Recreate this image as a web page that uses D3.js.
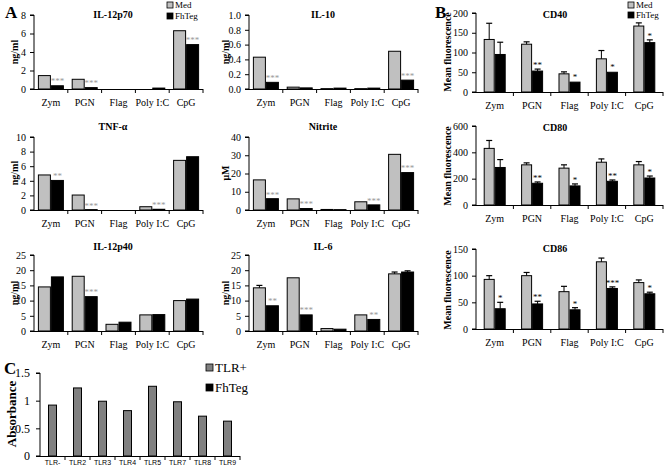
<!DOCTYPE html>
<html><head><meta charset="utf-8">
<script src="https://cdn.jsdelivr.net/npm/d3@7"></script>
<style>body{margin:0;background:#fff} svg{display:block;font-family:"Liberation Serif","Times New Roman",serif}</style>
</head><body><svg id="c" width="664" height="467"></svg>
<script>
const categories = ["Zym","PGN","Flag","Poly I:C","CpG"];
const seriesNames = ["Med","FhTeg"];

const il12p70Med = [1.45,1.05,0,0,6.3];
const il12p70MedErr = [0.05,0.04,0,0,0.06];
const il12p70Teg = [0.35,0.15,0,0.1,4.8];
const il12p70TegErr = [0.03,0.02,0,0.02,0.05];
const il12p70Sig = ["***","***","","","***"];

const il10Med = [0.43,0.025,0.005,0.005,0.51];
const il10MedErr = [0.01,0.002,0.001,0.001,0.005];
const il10Teg = [0.09,0.015,0.012,0.012,0.12];
const il10TegErr = [0.005,0.002,0.001,0.001,0.005];
const il10Sig = ["***","","","","***"];

const tnfMed = [4.8,2.05,0,0.45,6.8];
const tnfMedErr = [0.07,0.06,0,0.04,0.15];
const tnfTeg = [4.05,0.05,0,0.1,7.3];
const tnfTegErr = [0.05,0.01,0,0.02,0.1];
const tnfSig = ["**","***","","***",""];

const nitriteMed = [16.5,6.1,0.3,4.5,30.5];
const nitriteMedErr = [0.2,0.2,0.05,0.2,0.3];
const nitriteTeg = [6.2,0.8,0.2,2.8,20.5];
const nitriteTegErr = [0.1,0.05,0.05,0.1,0.3];
const nitriteSig = ["***","***","","***","***"];

const il12p40Med = [14.5,18,2.2,5.3,10];
const il12p40MedErr = [0.2,0.3,0.1,0.1,0.3];
const il12p40Teg = [17.8,11.3,2.9,5.4,10.5];
const il12p40TegErr = [0.2,0.2,0.1,0.1,0.3];
const il12p40Sig = ["","***","","",""];

const il6Med = [14.2,17.5,0.8,5.3,18.8];
const il6MedErr = [0.8,0.3,0.05,0.2,0.6];
const il6Teg = [8.3,5.3,0.6,3.8,19.4];
const il6TegErr = [0.2,0.2,0.05,0.2,0.4];
const il6Sig = ["**","***","","**",""];

const cd40Med = [133,121,46,84,167];
const cd40MedErr = [41,6,5,21,8];
const cd40Teg = [95,53,25,50,125];
const cd40TegErr = [31,5,3,3,7];
const cd40Sig = ["","**","*","*","*"];

const cd80Med = [430,305,280,325,305];
const cd80MedErr = [60,15,25,25,25];
const cd80Teg = [285,165,145,180,205];
const cd80TegErr = [60,10,15,10,15];
const cd80Sig = ["","**","*","**","*"];

const cd86Med = [93,100,70,126,87];
const cd86MedErr = [7,6,10,7,5];
const cd86Teg = [38,47,36,76,66];
const cd86TegErr = [12,5,4,3,3];
const cd86Sig = ["*","**","*","***","*"];

const tlrCategories = ["TLR-","TLR2","TLR3","TLR4","TLR5","TLR7","TLR8","TLR9"];
const tlrAbsorbance = [0.92,1.23,0.99,0.82,1.26,0.98,0.72,0.63];
const tlrLegend = ["TLR+","FhTeg"];

const svg = d3.select("#c");
const GRAY = "#c0c0c0";

function panel(o){
  const g = svg.append("g");
  const x = d3.scaleBand().domain(categories).range([o.x0,o.x1]).paddingInner(0).paddingOuter(0);
  const y = d3.scaleLinear().domain([0,o.max]).range([o.base,o.top]);
  const bw = o.bw;
  // y axis
  const ya = d3.axisLeft(y).tickValues(o.ticks).tickSize(4).tickFormat(o.fmt||d3.format("d"));
  const ag = g.append("g").attr("transform",`translate(${o.x0},0)`).call(ya);
  ag.select(".domain").attr("stroke","#000").attr("d",`M-4,${o.base}H0V${o.top}H-4`);
  ag.selectAll("text").attr("font-size",10).attr("font-family","Liberation Serif").attr("dx",-1);
  // bars
  const sets = [[o.med,o.medErr,GRAY],[o.teg,o.tegErr,"#000"]];
  sets.forEach((s,si)=>{
    categories.forEach((c,i)=>{
      const cx = x(c)+x.bandwidth()/2;
      const bx = si===0? cx-bw : cx;
      const v = s[0][i];
      const yt = y(v);
      if(v>0){
        g.append("rect").attr("x",bx+0.5).attr("y",yt).attr("width",bw-1).attr("height",Math.max(o.base-yt,0.5))
          .attr("fill",s[2]).attr("stroke","#000").attr("stroke-width",1);
      }
      const e = s[1][i];
      if(e>0 && y(v)-y(v+e)>1.2){
        const ex = bx+bw/2;
        g.append("line").attr("x1",ex).attr("x2",ex).attr("y1",yt).attr("y2",y(v+e)).attr("stroke","#000");
        g.append("line").attr("x1",ex-3).attr("x2",ex+3).attr("y1",y(v+e)).attr("y2",y(v+e)).attr("stroke","#000").attr("stroke-width",1.2);
      }
    });
  });
  // significance
  categories.forEach((c,i)=>{
    const s = o.sig[i]; if(!s) return;
    const cx = x(c)+x.bandwidth()/2 + bw/2;
    const top = y(o.teg[i]+o.tegErr[i]);
    g.append("text").attr("x",cx).attr("y",top-1).attr("text-anchor","middle")
      .attr("font-size",9).attr("fill",o.starColor).attr("font-family","Liberation Serif").text(s);
  });
  // x axis
  g.append("line").attr("x1",o.x0).attr("x2",o.x1).attr("y1",o.base+0.5).attr("y2",o.base+0.5).attr("stroke","#000");
  categories.forEach((c,i)=>{
    const xx = x(c)+x.bandwidth();
    g.append("line").attr("x1",xx).attr("x2",xx).attr("y1",o.base).attr("y2",o.base+4).attr("stroke","#000");
    g.append("text").attr("x",x(c)+x.bandwidth()/2).attr("y",o.base+17).attr("text-anchor","middle")
      .attr("font-size",10).text(c);
  });
  // title
  g.append("text").attr("x",o.tx).attr("y",o.ty).attr("text-anchor","middle").attr("font-weight","bold")
    .attr("font-size",10).text(o.title);
  // y label
  g.append("text").attr("transform",`translate(${o.lx},${o.ly}) rotate(-90)`).attr("text-anchor","middle")
    .attr("font-weight","bold").attr("font-size",o.lsize||10).text(o.ylab);
}

const L = {x0:34,x1:203,tx:113,lx:18};
const R = {x0:249,x1:418,tx:323,lx:229};
const B = {x0:476,x1:663,tx:555,lx:451};
const r1 = {top:15,base:89,ty:18};
const r2 = {top:137,base:210,ty:130};
const r3 = {top:255,base:331,ty:250};

panel({...L,...r1,bw:13,title:"IL-12p70",ylab:"ng/ml",ly:52,max:8,ticks:[0,2,4,6,8],
  med:il12p70Med,medErr:il12p70MedErr,teg:il12p70Teg,tegErr:il12p70TegErr,sig:il12p70Sig,starColor:"#999"});
panel({...R,...r1,bw:13,title:"IL-10",ylab:"ng/ml",ly:52,max:1,ticks:[0,0.2,0.4,0.6,0.8,1.0],fmt:d3.format(".1f"),
  med:il10Med,medErr:il10MedErr,teg:il10Teg,tegErr:il10TegErr,sig:il10Sig,starColor:"#999"});
panel({...L,...r2,bw:13,title:"TNF-α",ylab:"ng/ml",ly:173,max:10,ticks:[0,2,4,6,8,10],
  med:tnfMed,medErr:tnfMedErr,teg:tnfTeg,tegErr:tnfTegErr,sig:tnfSig,starColor:"#999"});
panel({...R,...r2,bw:13,title:"Nitrite",ylab:"μM",ly:173,max:40,ticks:[0,10,20,30,40],
  med:nitriteMed,medErr:nitriteMedErr,teg:nitriteTeg,tegErr:nitriteTegErr,sig:nitriteSig,starColor:"#999"});
panel({...L,...r3,bw:13,title:"IL-12p40",ylab:"ng/ml",ly:293,max:25,ticks:[0,5,10,15,20,25],
  med:il12p40Med,medErr:il12p40MedErr,teg:il12p40Teg,tegErr:il12p40TegErr,sig:il12p40Sig,starColor:"#999"});
panel({...R,...r3,bw:13,title:"IL-6",ylab:"ng/ml",ly:293,max:25,ticks:[0,5,10,15,20,25],
  med:il6Med,medErr:il6MedErr,teg:il6Teg,tegErr:il6TegErr,sig:il6Sig,starColor:"#999"});
panel({...B,top:13,base:92,ty:18,bw:11,title:"CD40",ylab:"Mean fluorescence",ly:52,max:200,ticks:[0,50,100,150,200],
  med:cd40Med,medErr:cd40MedErr,teg:cd40Teg,tegErr:cd40TegErr,sig:cd40Sig,starColor:"#000"});
panel({...B,top:126,base:205,ty:131,bw:11,title:"CD80",ylab:"Mean fluorescence",ly:166,max:600,ticks:[0,200,400,600],
  med:cd80Med,medErr:cd80MedErr,teg:cd80Teg,tegErr:cd80TegErr,sig:cd80Sig,starColor:"#000"});
panel({...B,top:249,base:329,ty:252,bw:11,title:"CD86",ylab:"Mean fluorescence",ly:290,max:150,ticks:[0,50,100,150],
  med:cd86Med,medErr:cd86MedErr,teg:cd86Teg,tegErr:cd86TegErr,sig:cd86Sig,starColor:"#000"});

// legends A and B
function legend(x0,y0,fs,sq,gap){
  seriesNames.forEach((n,i)=>{
    svg.append("rect").attr("x",x0).attr("y",y0+i*gap-sq+1).attr("width",sq).attr("height",sq)
      .attr("fill",i?"#000":GRAY).attr("stroke","#000").attr("stroke-width",0.8);
    svg.append("text").attr("x",x0+sq+2).attr("y",y0+i*gap+1).attr("font-size",fs).text(n);
  });
}
legend(167,7,9,6,11);
legend(628,7,9,6,10);

// panel labels
[["A",5,18],["B",435,18],["C",4,374]].forEach(d=>{
  svg.append("text").attr("x",d[1]).attr("y",d[2]).attr("font-weight","bold").attr("font-size",17).text(d[0]);
});

// Panel C
(function(){
  const x0=40,x1=240,top=373,base=456;
  const x = d3.scaleBand().domain(tlrCategories).range([x0,x1]);
  const y = d3.scaleLinear().domain([0,1.5]).range([base,top]);
  const g = svg.append("g");
  const ya = d3.axisLeft(y).tickValues([0,0.5,1,1.5]).tickSize(4).tickFormat(d=>String(d));
  const ag = g.append("g").attr("transform",`translate(${x0},0)`).call(ya);
  ag.select(".domain").attr("d",`M-4,${base}H0V${top}H-4`);
  ag.selectAll("text").attr("font-size",12).attr("font-family","Liberation Serif").attr("dx",-3);
  g.append("line").attr("x1",x0).attr("x2",x1).attr("y1",base+0.5).attr("y2",base+0.5).attr("stroke","#000");
  tlrCategories.forEach((c,i)=>{
    const cx = x(c)+x.bandwidth()/2;
    g.append("rect").attr("x",cx-4).attr("y",y(tlrAbsorbance[i])).attr("width",8).attr("height",base-y(tlrAbsorbance[i]))
      .attr("fill","#808080").attr("stroke","#000").attr("stroke-width",1);
    g.append("line").attr("x1",x(c)+x.bandwidth()).attr("x2",x(c)+x.bandwidth()).attr("y1",base).attr("y2",base+4).attr("stroke","#000");
    g.append("text").attr("x",cx).attr("y",base+9).attr("text-anchor","middle").attr("font-size",7)
      .attr("font-family","Liberation Sans, Arial, sans-serif").text(c);
  });
  g.append("text").attr("transform",`translate(16,414) rotate(-90)`).attr("text-anchor","middle")
    .attr("font-weight","bold").attr("font-size",13).text("Absorbance");
  tlrLegend.forEach((n,i)=>{
    g.append("rect").attr("x",206).attr("y",364+i*20).attr("width",7).attr("height",7)
      .attr("fill",i?"#000":"#808080").attr("stroke","#000").attr("stroke-width",0.8);
    g.append("text").attr("x",215).attr("y",372+i*20).attr("font-size",13).text(n);
  });
})();
</script></body></html>
